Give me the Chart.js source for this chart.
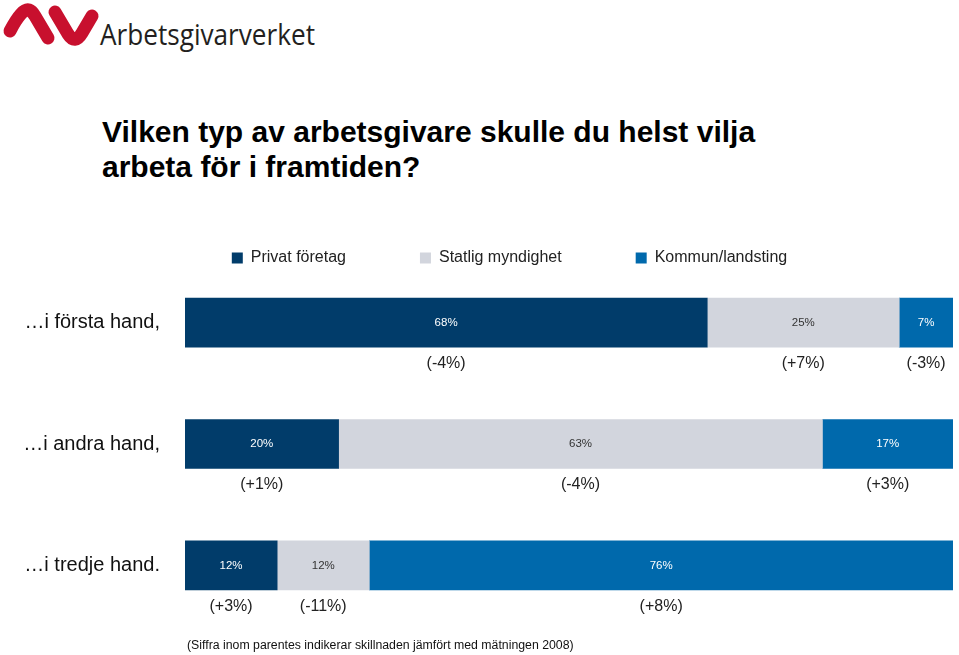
<!DOCTYPE html>
<html>
<head>
<meta charset="utf-8">
<script src="https://cdn.jsdelivr.net/npm/chart.js@4/dist/chart.umd.min.js"></script>
<style>
  body { margin: 0; background: #fff; font-family: "Liberation Sans", Arial, sans-serif; }
  #wrap { position: relative; width: 959px; height: 655px; overflow: hidden; }
  #chart { position: absolute; left: 0; top: 0; }
  #logo { position: absolute; left: 0; top: 0; }
  #title { position: absolute; left: 102px; top: 114px; font-size: 30px; font-weight: bold; line-height: 35px; color: #000; }
  #note { position: absolute; left: 187px; top: 637px; font-size: 12.3px; line-height: 16px; color: #111; }
</style>
</head>
<body>
<div id="wrap">
  <svg id="logo" width="330" height="60">
    <path d="M10 31 Q22 8 29 10 Q32 11 35 16 L48 38" fill="none" stroke="#c8102e" stroke-width="13" stroke-linecap="round" stroke-linejoin="round"/>
    <path d="M55 12 L68 34 Q75 45 82 33 L92 16" fill="none" stroke="#c8102e" stroke-width="13" stroke-linecap="round" stroke-linejoin="round"/>
    <text x="100" y="45" font-family="Open Sans, DejaVu Sans, sans-serif" font-size="29" fill="#231f20" textLength="215" lengthAdjust="spacingAndGlyphs">Arbetsgivarverket</text>
  </svg>
  <div id="title">Vilken typ av arbetsgivare skulle du helst vilja<br>arbeta för i framtiden?</div>
  <canvas id="chart" width="959" height="655"></canvas>
  <div id="note">(Siffra inom parentes indikerar skillnaden jämfört med mätningen 2008)</div>
</div>
<script>
// kategorier (y-axeln)
const categories = ['…i första hand,', '…i andra hand,', '…i tredje hand.'];

// andelar i procent
const privat = [68, 20, 12];
const statlig = [25, 63, 12];
const kommun = [7, 17, 76];

// förändring jämfört med 2008
const privatDiff = ['(-4%)', '(+1%)', '(+3%)'];
const statligDiff = ['(+7%)', '(-4%)', '(-11%)'];
const kommunDiff = ['(-3%)', '(+3%)', '(+8%)'];

const diffs = [privatDiff, statligDiff, kommunDiff];
const labelColors = ['#ffffff', '#333333', '#ffffff'];

// skriver värden i staplarna och förändringen under
const barLabels = {
  id: 'barLabels',
  beforeLayout(chart) {
    const lg = chart.legend;
    if (lg && !lg._patched) {
      const fit = lg.fit;
      lg.fit = function () {
        fit.call(this);
        this.height = 86; // tätare mellan legend och staplar
      };
      lg._patched = true;
    }
  },
  afterLayout(chart) {
    // flytta legenden lite åt höger och ge plats för texten
    const lg = chart.legend;
    lg.left += 33;
    lg.right += 33;
    lg.bottom += 20;
  },
  afterDatasetsDraw(chart) {
    const ctx = chart.ctx;
    ctx.save();
    ctx.textAlign = 'center';
    ctx.textBaseline = 'middle';
    chart.data.datasets.forEach(function (ds, di) {
      const meta = chart.getDatasetMeta(di);
      meta.data.forEach(function (bar, i) {
        const cx = (bar.x + bar.base) / 2;
        ctx.font = '11.5px "Liberation Sans", Arial, sans-serif';
        ctx.fillStyle = labelColors[di];
        ctx.fillText(ds.data[i] + '%', cx, bar.y);
        ctx.font = '16px "Liberation Sans", Arial, sans-serif';
        ctx.fillStyle = '#222222';
        ctx.fillText(diffs[di][i], cx, bar.y + 41);
      });
    });
    ctx.restore();
  }
};

const chartData = {
  labels: categories,
  datasets: [
    { label: 'Privat företag', data: privat, backgroundColor: '#013c6a' },
    { label: 'Statlig myndighet', data: statlig, backgroundColor: '#d2d5dd' },
    { label: 'Kommun/landsting', data: kommun, backgroundColor: '#0069ac' }
  ]
};

const options = {
  indexAxis: 'y',
  responsive: false,
  animation: false,
  maintainAspectRatio: false,
  layout: { padding: { top: 176, left: 0, right: 6, bottom: 29 } },
  datasets: { bar: { barThickness: 49, borderWidth: 0 } },
  scales: {
    x: { stacked: true, min: 0, max: 100, display: false },
    y: {
      stacked: true,
      grid: { display: false, drawTicks: false },
      border: { display: false },
      afterFit: function (scale) {
        scale.width = 185;
        scale.paddingTop = 0;
        scale.paddingBottom = 0;
      },
      ticks: {
        padding: 25,
        color: '#111111',
        font: { family: '"Liberation Sans", Arial, sans-serif', size: 20 }
      }
    }
  },
  plugins: {
    legend: {
      position: 'top',
      labels: {
        boxWidth: 11,
        boxHeight: 11,
        padding: 74,
        color: '#222222',
        font: { family: '"Liberation Sans", Arial, sans-serif', size: 16 }
      }
    },
    tooltip: { enabled: false }
  }
};

new Chart(document.getElementById('chart'), {
  type: 'bar',
  data: chartData,
  options: options,
  plugins: [barLabels]
});
</script>
</body>
</html>
